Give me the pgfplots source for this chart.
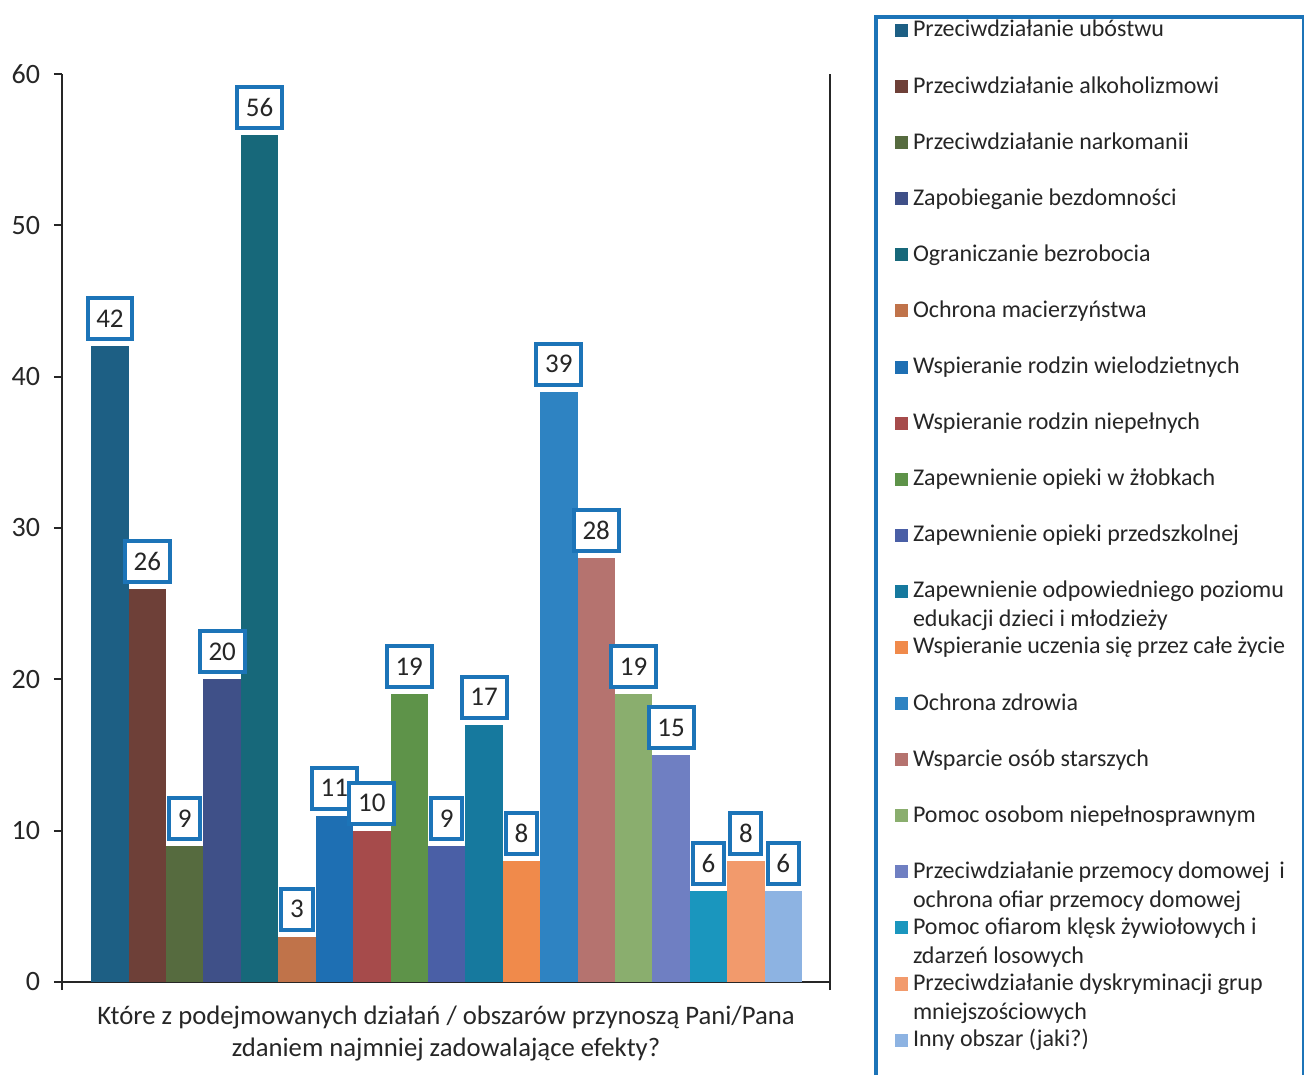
\documentclass[border=0pt]{standalone}
\usepackage{fontspec}
\setmainfont{Carlito}
\usepackage{pgfplots}
\pgfplotsset{compat=1.18}
\definecolor{c1}{HTML}{1D5F84}
\definecolor{c2}{HTML}{6E4038}
\definecolor{c3}{HTML}{566B3F}
\definecolor{c4}{HTML}{3F5088}
\definecolor{c5}{HTML}{17687A}
\definecolor{c6}{HTML}{C0734A}
\definecolor{c7}{HTML}{1E6FB3}
\definecolor{c8}{HTML}{A64B4B}
\definecolor{c9}{HTML}{5E9349}
\definecolor{c10}{HTML}{4A5FA6}
\definecolor{c11}{HTML}{16799E}
\definecolor{c12}{HTML}{F08A4B}
\definecolor{c13}{HTML}{2E83C2}
\definecolor{c14}{HTML}{B5736F}
\definecolor{c15}{HTML}{8AAE6E}
\definecolor{c16}{HTML}{6F7FC2}
\definecolor{c17}{HTML}{1A96BE}
\definecolor{c18}{HTML}{F29A6C}
\definecolor{c19}{HTML}{8DB3E2}
\definecolor{lblue}{HTML}{1C74B8}
\definecolor{txt}{HTML}{262626}
\newcommand\LE[1]{\raisebox{0pt}[8bp][4bp]{\parbox[t]{186bp}{#1}}}
\pgfplotsset{B/.style={fill=#1, draw=none, bar shift=0pt,
  legend image code/.code={\fill[##1, draw=none] (0bp,-3.25bp) rectangle (6.5bp,3.25bp);}}}
\begin{document}
\begin{tikzpicture}
\begin{axis}[
  scale only axis, width=384bp, height=454bp,
  at={(0,0)}, anchor=south west,
  xmin=-1.283, xmax=19.25, ymin=0, ymax=60,
  ytick={0,10,...,60}, xtick={-1.283,19.25}, xticklabels={},
  axis lines=left, axis line style={-, line width=1bp, black!85},
  tick align=outside, major tick length=4bp,
  every tick/.style={black!85, line width=1bp},
  /pgf/number format/assume math mode=true,
  yticklabel style={font=\fontsize{14bp}{16bp}\selectfont, text=txt, xshift=-3.5bp},
  ybar, bar width=1,
  nodes near coords,
  every node near coord/.append style={draw=lblue, line width=2bp, fill=white, text=txt,
     font=\fontsize{13.5bp}{15bp}\selectfont, inner xsep=4.4bp, inner ysep=0pt,
     minimum height=20.5bp, anchor=south, yshift=2.5bp},
  xlabel={Które z podejmowanych działań / obszarów przynoszą Pani/Pana\\zdaniem najmniej zadowalające efekty?},
  xlabel style={at={(axis description cs:0.5,0)}, anchor=north, yshift=-12bp, inner sep=0pt,
     align=center, font=\fontsize{13.35bp}{16bp}\selectfont, text=txt},
  legend style={at={(1.0573,1.065)}, anchor=north west, draw=lblue, line width=2bp,
     inner xsep=9.5bp, inner ysep=2bp, row sep=18.55bp, column sep=2.5bp,
     nodes={inner sep=0pt, text=txt}, font=\fontsize{12bp}{14.5bp}\selectfont},
  legend cell align=left,
  clip=false,
]
\addplot+[B=c1] coordinates {(0,42)};
\addplot+[B=c2] coordinates {(1,26)};
\addplot+[B=c3] coordinates {(2,9)};
\addplot+[B=c4] coordinates {(3,20)};
\addplot+[B=c5] coordinates {(4,56)};
\addplot+[B=c6] coordinates {(5,3)};
\addplot+[B=c7] coordinates {(6,11)};
\addplot+[B=c8] coordinates {(7,10)};
\addplot+[B=c9] coordinates {(8,19)};
\addplot+[B=c10] coordinates {(9,9)};
\addplot+[B=c11] coordinates {(10,17)};
\addplot+[B=c12] coordinates {(11,8)};
\addplot+[B=c13] coordinates {(12,39)};
\addplot+[B=c14] coordinates {(13,28)};
\addplot+[B=c15] coordinates {(14,19)};
\addplot+[B=c16] coordinates {(15,15)};
\addplot+[B=c17] coordinates {(16,6)};
\addplot+[B=c18] coordinates {(17,8)};
\addplot+[B=c19] coordinates {(18,6)};
\addlegendimage{empty legend}
\legend{\LE{Przeciwdziałanie ubóstwu},
\LE{Przeciwdziałanie alkoholizmowi},
\LE{Przeciwdziałanie narkomanii},
\LE{Zapobieganie bezdomności},
\LE{Ograniczanie bezrobocia},
\LE{Ochrona macierzyństwa},
\LE{Wspieranie rodzin wielodzietnych},
\LE{Wspieranie rodzin niepełnych},
\LE{Zapewnienie opieki w żłobkach},
\LE{Zapewnienie opieki przedszkolnej},
\LE{Zapewnienie odpowiedniego poziomu\\edukacji dzieci i młodzieży},
\LE{Wspieranie uczenia się przez całe życie},
\LE{Ochrona zdrowia},
\LE{Wsparcie osób starszych},
\LE{Pomoc osobom niepełnosprawnym},
\LE{Przeciwdziałanie przemocy domowej\ \ i\\ochrona ofiar przemocy domowej},
\LE{Pomoc ofiarom klęsk żywiołowych i\\zdarzeń losowych},
\LE{Przeciwdziałanie dyskryminacji grup\\mniejszościowych},
\LE{Inny obszar (jaki?)},
\LE{\mbox{}}}
\draw[line width=1bp, black!85] (rel axis cs:1,0) -- (rel axis cs:1,1);
\end{axis}
\pgfresetboundingbox
\path[use as bounding box] (-31bp,-46.5bp) rectangle (621bp,491bp);
\end{tikzpicture}
\end{document}
